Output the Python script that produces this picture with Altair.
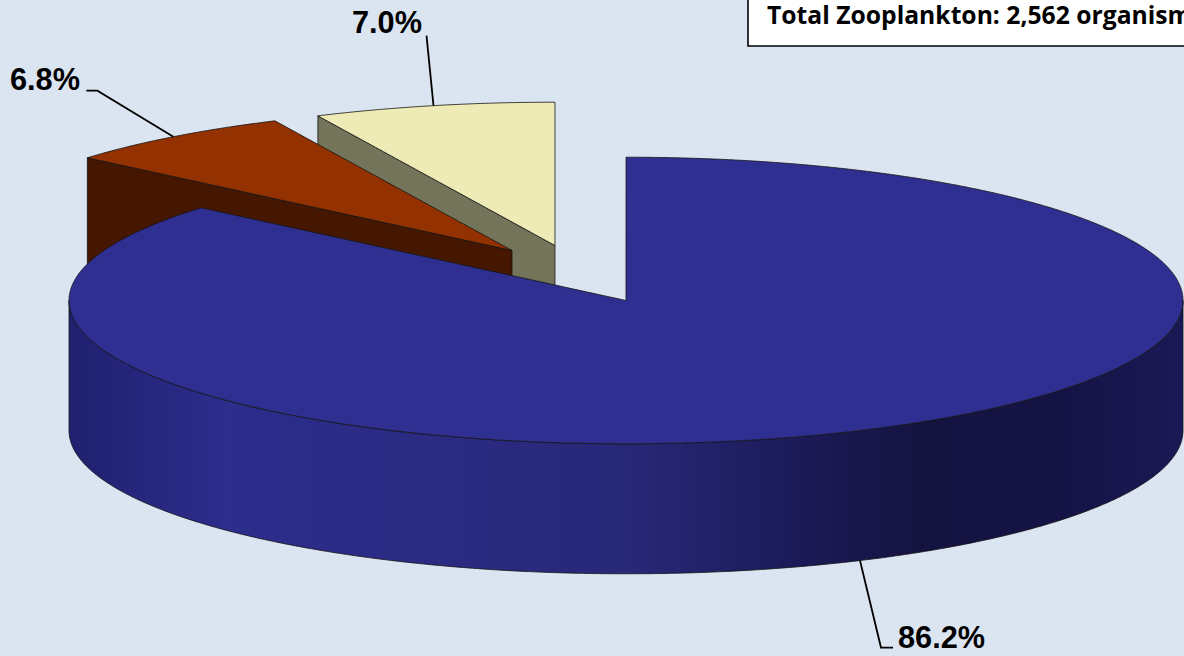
import altair as alt
import numpy as np
import pandas as pd

# Share of total zooplankton, in clockwise order from twelve o'clock
labels = ["86.2%", "6.8%", "7.0%"]
shares = [86.2, 6.8, 7.0]
box_text = "Total Zooplankton: 2,562 organisms"

# Projection of the tilted disc
W, H = 1184, 656
CX, CY = 626, 300.5
RX, RY = 557, 143.3
DEPTH = 130
# Pull-out of each slice from the disc centre
OFFSETS = [(0, 0), (-114, -50), (-71, -55)]

BACKGROUND = "#DBE5F1"
TOP_COLORS = ["#2E2F90", "#943100", "#EFEBB6"]
WALL_COLORS = [None, "#451700", "#74745A"]
EDGE = "#141414"
SIDE_GRADIENT = alt.LinearGradient(
    gradient="linear", x1=0, x2=1, y1=0, y2=0,
    stops=[
        alt.GradientStop(offset=0.0, color="#20206F"),
        alt.GradientStop(offset=0.14, color="#2C2D8C"),
        alt.GradientStop(offset=0.5, color="#282879"),
        alt.GradientStop(offset=0.635, color="#1D1C5C"),
        alt.GradientStop(offset=0.765, color="#141340"),
        alt.GradientStop(offset=0.89, color="#151345"),
        alt.GradientStop(offset=1.0, color="#1A1955"),
    ],
)


def rim(center, angles):
    """Points on the elliptical rim; angles are degrees clockwise from the top."""
    t = np.radians(angles)
    return np.column_stack([center[0] + RX * np.sin(t), center[1] - RY * np.cos(t)])


def spans(polygon):
    """Turn a polygon into x / y / y2 rows for an area mark, one vertical span per x."""
    poly = np.asarray(polygon, dtype=float)
    eps = 0.02
    xs = np.unique(np.concatenate([poly[:, 0] - eps, poly[:, 0] + eps]))
    xs = xs[(xs >= poly[:, 0].min()) & (xs <= poly[:, 0].max())]
    a, b = poly, np.roll(poly, -1, axis=0)
    rows = []
    for x in xs:
        hit = ((a[:, 0] <= x) & (b[:, 0] > x)) | ((b[:, 0] <= x) & (a[:, 0] > x))
        ys = a[hit, 1] + (x - a[hit, 0]) / (b[hit, 0] - a[hit, 0]) * (b[hit, 1] - a[hit, 1])
        if len(ys):
            rows.append({"x": x, "y": ys.min(), "y2": ys.max()})
    return pd.DataFrame(rows)


x_scale = alt.Scale(domain=[0, W], range=[0, W])
y_scale = alt.Scale(domain=[0, H], range=[0, H])
X = alt.X("x:Q", scale=x_scale, axis=None)
Y = alt.Y("y:Q", scale=y_scale, axis=None)


def area_layer(polygon, fill, width=0.8):
    return alt.Chart(spans(polygon)).mark_area(
        fill=fill, stroke=EDGE, strokeWidth=width, strokeJoin="miter"
    ).encode(x=X, y=Y, y2="y2:Q")


# Slice angles follow directly from the shares
edges = np.concatenate([[0], np.cumsum(shares) / np.sum(shares) * 360])
centers = [(CX + dx, CY + dy) for dx, dy in OFFSETS]
mids = (edges[:-1] + edges[1:]) / 2

layers = []

# Pulled-out slices, back to front: cream, then red
for i in (2, 1):
    c = centers[i]
    start = rim(c, np.array([edges[i]]))[0]
    wall = [start, c, (c[0], c[1] + DEPTH), (start[0], start[1] + DEPTH)]
    layers.append(area_layer(wall, WALL_COLORS[i]))
    arc = rim(c, np.linspace(edges[i], edges[i + 1], 60))
    layers.append(area_layer(np.vstack([[c], arc]), TOP_COLORS[i]))

# Main slice: outer wall of the front half, then its top face
front = rim(centers[0], np.linspace(90, 270, 361))
side = np.vstack([front, (front + [0, DEPTH])[::-1]])
layers.append(area_layer(side, SIDE_GRADIENT))
arc = rim(centers[0], np.linspace(edges[0], edges[1], 721))
layers.append(area_layer(np.vstack([[centers[0]], arc]), TOP_COLORS[0]))

# Leader lines start on the rim at each slice's middle angle
anchors = [
    rim(centers[0], np.array([mids[0]]))[0] + [0, DEPTH],
    rim(centers[1], np.array([mids[1]]))[0],
    rim(centers[2], np.array([mids[2]]))[0],
]
leader_bends = [[(21, 87), (33, 87)], [(-76, -46), (-87, -46)], [(-7, -70)]]
label_pos = [(898, 648), (10, 90), (352, 33)]

for anchor, bends in zip(anchors, leader_bends):
    pts = [tuple(anchor)] + [(anchor[0] + dx, anchor[1] + dy) for dx, dy in bends]
    df = pd.DataFrame(pts, columns=["x", "y"]).assign(i=range(len(pts)))
    layers.append(
        alt.Chart(df).mark_line(color="black", strokeWidth=1.8).encode(x=X, y=Y, order="i:Q")
    )

text_df = pd.DataFrame({"x": [p[0] for p in label_pos], "y": [p[1] for p in label_pos], "t": labels})
layers.append(
    alt.Chart(text_df).mark_text(
        font="Liberation Sans", fontWeight="bold", fontSize=30.7, align="left",
        baseline="alphabetic", color="black",
    ).encode(x=X, y=Y, text="t:N")
)

# Total count box, running off the top-right corner
box_df = pd.DataFrame({"x": [748], "x2": [1200], "y": [-10], "y2": [46]})
layers.append(
    alt.Chart(box_df).mark_rect(fill="white", stroke="black", strokeWidth=1.6).encode(
        x=X, x2="x2:Q", y=Y, y2="y2:Q"
    )
)
layers.append(
    alt.Chart(pd.DataFrame({"x": [767], "y": [24], "t": [box_text]})).mark_text(
        font="Open Sans", fontWeight="bold", fontSize=24.7, align="left",
        baseline="alphabetic", color="black",
    ).encode(x=X, y=Y, text="t:N")
)

chart = (
    alt.layer(*layers)
    .properties(
        width=W, height=H, padding=0, background=BACKGROUND,
        autosize=alt.AutoSizeParams(type="none"),
    )
    .configure_view(stroke=None, clip=False)
)

chart.save("out.html", embed_options={"renderer": "svg", "actions": False})
